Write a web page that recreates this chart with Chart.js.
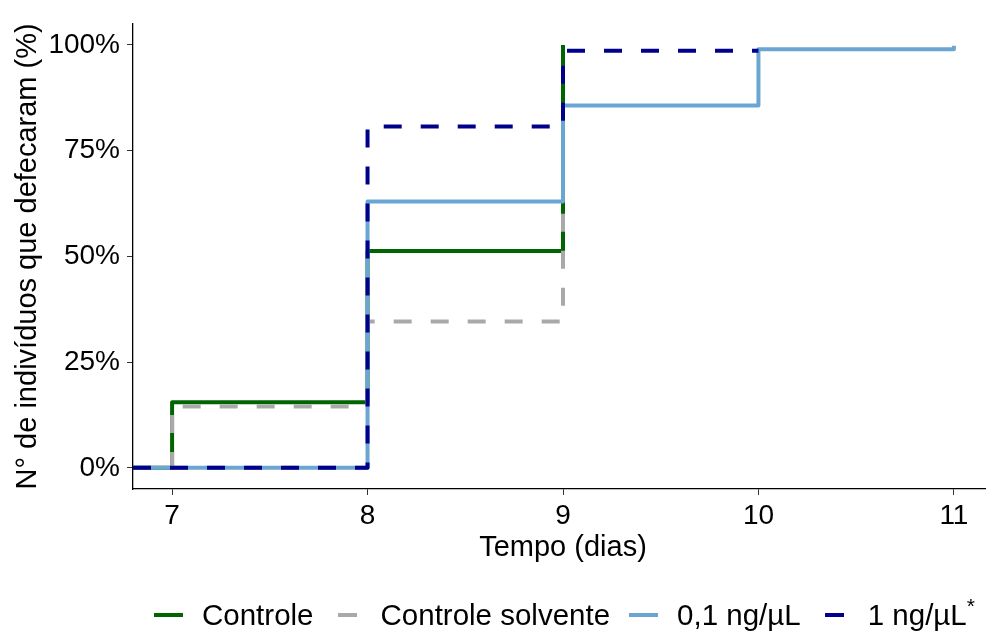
<!DOCTYPE html>
<html>
<head>
<meta charset="utf-8">
<script src="https://cdn.jsdelivr.net/npm/chart.js@4/dist/chart.umd.min.js"></script>
<style>
  html, body { margin: 0; padding: 0; background: #fff; overflow: hidden; }
  #wrap { position: relative; width: 1000px; height: 635px; }
  #legend {
    position: absolute; left: 154px; top: 597px; height: 36px;
    display: flex; align-items: center;
    font-family: "Liberation Sans", Arial, sans-serif; font-size: 29.5px; color: #000;
  }
  .item { display: flex; align-items: center; margin-right: 19px; }
  .key { width: 29px; height: 4px; margin-right: 19px; position: relative; }
  .key span { position: absolute; top: 0; height: 4px; }
  sup { font-size: 21px; vertical-align: 12px; line-height: 0; }
</style>
</head>
<body>
<div id="wrap">
  <canvas id="myChart"></canvas>
  <div id="legend"></div>
</div>
<script>
// tempo (dias) e % acumulada de indivíduos que defecaram
const controleX = [6.8, 7, 8, 9];
const controleY = [0, 15.5, 51.3, 100];
const solventeX = [6.8, 7, 8, 9];
const solventeY = [0, 14.5, 34.6, 70];
const dose01X = [6.8, 8, 9, 10, 11];
const dose01Y = [0, 63, 85.7, 99, 99.8];
const dose1X = [6.8, 8, 9, 10];
const dose1Y = [0, 80.7, 98.6, 98.6];

const xTicks = [7, 8, 9, 10, 11];
const yTicks = [0, 25, 50, 75, 100];

const series = [
  {label: 'Controle', xs: controleX, ys: controleY, color: '#006400', dash: [], order: 3},
  {label: 'Controle solvente', xs: solventeX, ys: solventeY, color: '#A9A9A9', dash: [18, 19], order: 2},
  {label: '0,1 ng/µL', xs: dose01X, ys: dose01Y, color: '#6BA6D3', dash: [], order: 1},
  {label: '1 ng/µL', xs: dose1X, ys: dose1Y, color: '#00008B', dash: [18, 19], order: 0, star: true}
];

const font = 'Liberation Sans, Arial, sans-serif';

const ctx = document.getElementById('myChart');
const myChart = new Chart(ctx, {
  type: 'line',
  data: {
    datasets: series.map(s => ({
      label: s.label,
      data: s.xs.map((x, i) => ({x: x, y: s.ys[i]})),
      borderColor: s.color,
      backgroundColor: s.color,
      borderWidth: 4,
      borderDash: s.dash,
      borderCapStyle: 'butt',
      borderJoinStyle: 'round',
      stepped: 'before',
      pointRadius: 0,
      fill: false,
      order: s.order
    }))
  },
  options: {
    responsive: true,
    maintainAspectRatio: false,
    animation: false,
    layout: {padding: {left: 0, right: 7, top: 19, bottom: 70}},
    plugins: {legend: {display: false}, tooltip: {enabled: false}},
    scales: {
      x: {
        type: 'linear',
        min: 6.8,
        max: 11.2,
        afterBuildTicks: sc => { sc.ticks = xTicks.map(v => ({value: v})); },
        afterFit: sc => { sc.height = 76; },
        grid: {display: true, drawOnChartArea: false, drawTicks: true, tickLength: 6, tickColor: '#333'},
        border: {display: true, color: '#000', width: 1.3},
        ticks: {color: '#000', font: {family: font, size: 28}, padding: 4, maxRotation: 0},
        title: {display: true, text: 'Tempo (dias)', color: '#000', font: {family: font, size: 29}, padding: 0}
      },
      y: {
        min: -5,
        max: 105,
        afterBuildTicks: sc => { sc.ticks = yTicks.map(v => ({value: v})); },
        afterFit: sc => { sc.width = 133; },
        grid: {display: true, drawOnChartArea: false, drawTicks: true, tickLength: 6, tickColor: '#333'},
        border: {display: true, color: '#000', width: 1.3},
        ticks: {color: '#000', font: {family: font, size: 28}, padding: 7, callback: v => v + '%'},
        title: {display: true, text: 'N° de indivíduos que defecaram (%)', color: '#000', font: {family: font, size: 29}, padding: {top: 11, bottom: 0}}
      }
    }
  }
});

// legenda
const legend = document.getElementById('legend');
series.forEach(s => {
  const item = document.createElement('div');
  item.className = 'item';
  const key = document.createElement('div');
  key.className = 'key';
  const seg = document.createElement('span');
  seg.style.background = s.color;
  if (s.dash.length) { seg.style.left = '5px'; seg.style.width = '19px'; }
  else { seg.style.left = '0px'; seg.style.width = '29px'; }
  key.appendChild(seg);
  const txt = document.createElement('span');
  txt.textContent = s.label;
  if (s.star) {
    const sup = document.createElement('sup');
    sup.textContent = '*';
    txt.appendChild(sup);
  }
  item.appendChild(key);
  item.appendChild(txt);
  legend.appendChild(item);
});
</script>
</body>
</html>
